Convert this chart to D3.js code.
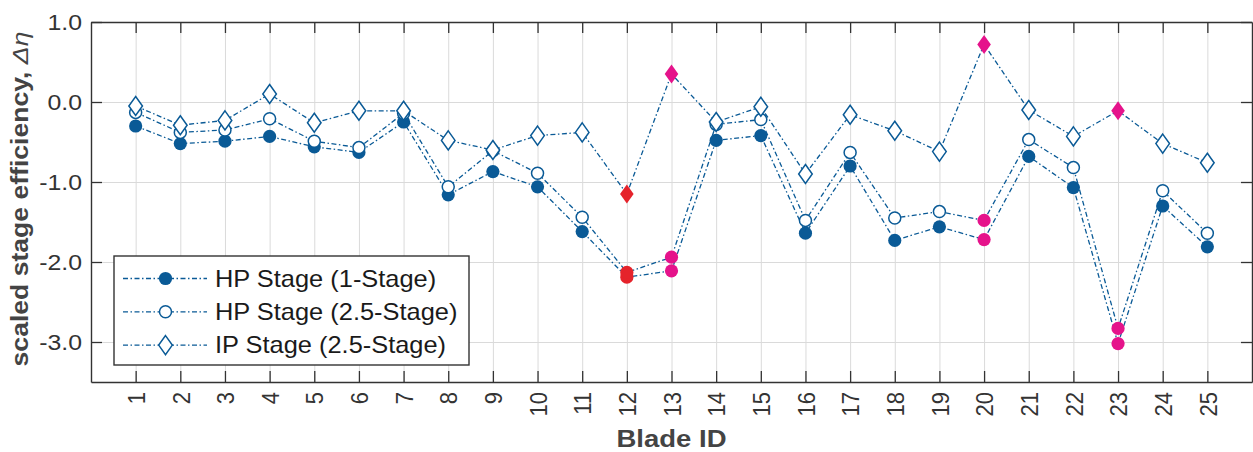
<!DOCTYPE html>
<html>
<head>
<meta charset="utf-8">
<script src="https://cdn.jsdelivr.net/npm/d3@7"></script>
<style>
  html, body { margin: 0; padding: 0; background: #fff; }
  svg { display: block; }
  text { font-family: "Liberation Sans", Arial, Helvetica, sans-serif; }
</style>
</head>
<body>
<svg id="chart" width="1253" height="452"></svg>
<script>
// ---------------- data ----------------
const bladeIds = d3.range(1, 26);
const hp1Stage = [-0.30, -0.52, -0.49, -0.43, -0.56, -0.63, -0.25, -1.16, -0.87, -1.06,
                  -1.62, -2.19, -2.11, -0.48, -0.42, -1.64, -0.80, -1.73, -1.56, -1.72,
                  -0.68, -1.07, -3.02, -1.30, -1.81];
const hp25Stage = [-0.13, -0.38, -0.35, -0.21, -0.49, -0.57, -0.14, -1.06, -0.61, -0.89,
                   -1.44, -2.13, -1.94, -0.28, -0.22, -1.48, -0.63, -1.45, -1.37, -1.48,
                   -0.47, -0.82, -2.83, -1.11, -1.64];
const ip25Stage = [-0.05, -0.29, -0.23, 0.10, -0.26, -0.11, -0.11, -0.48, -0.60, -0.42,
                   -0.38, -1.15, 0.35, -0.25, -0.06, -0.90, -0.16, -0.36, -0.62, 0.72,
                   -0.10, -0.43, -0.11, -0.52, -0.76];
const seriesNames = ["HP Stage (1-Stage)", "HP Stage (2.5-Stage)", "IP Stage (2.5-Stage)"];
const redIds = [12];
const pinkIds = [13, 20, 23];
const xTicks = d3.range(1, 26);
const yTicks = [1, 0, -1, -2, -3];
const yTickLabels = ["1.0", "0.0", "-1.0", "-2.0", "-3.0"];

// ---------------- layout ----------------
const W = 1253, H = 452;
const L = 91, R = 1252, T = 22, B = 382;
const BLUE = "#0a5a96", RED = "#e5232b", PINK = "#e5138b";
const TXT = "#333";
const DASH = "5,2.5,1.5,2.5";

const svg = d3.select("#chart");
const x = d3.scaleLinear().domain([0, 26]).range([L, R]);
const y = d3.scaleLinear().domain([-3.5, 1.0]).range([B, T]);

// gridlines
svg.append("g").attr("transform", `translate(0,${B})`)
  .call(d3.axisBottom(x).tickValues(xTicks).tickSize(-(B - T)).tickFormat(""))
  .call(g => g.select(".domain").remove())
  .call(g => g.selectAll("line").attr("stroke", "#dadada").attr("stroke-width", 1));
svg.append("g").attr("transform", `translate(${L},0)`)
  .call(d3.axisLeft(y).tickValues(yTicks).tickSize(-(R - L)).tickFormat(""))
  .call(g => g.select(".domain").remove())
  .call(g => g.selectAll("line").attr("stroke", "#dadada").attr("stroke-width", 1));

// axes with inward ticks
const TK = 11;
const xb = svg.append("g").attr("transform", `translate(0,${B})`)
  .call(d3.axisBottom(x).tickValues(xTicks).tickSizeInner(-TK).tickSizeOuter(0).tickFormat(d3.format("d")));
xb.selectAll("text")
  .attr("x", -10).attr("y", 0).attr("dy", "0.36em")
  .attr("text-anchor", "end")
  .attr("transform", "rotate(-90) scale(1,1.1)")
  .attr("font-size", 22).attr("fill", TXT);
const xt = svg.append("g").attr("transform", `translate(0,${T})`)
  .call(d3.axisTop(x).tickValues(xTicks).tickSizeInner(-TK).tickSizeOuter(0).tickFormat(""));
const yl = svg.append("g").attr("transform", `translate(${L},0)`)
  .call(d3.axisLeft(y).tickValues(yTicks).tickSizeInner(-TK).tickSizeOuter(0)
    .tickFormat((d, i) => yTickLabels[i]));
const SX = 1.13;
yl.selectAll("text")
  .attr("x", -9 / SX).attr("dy", "0.36em")
  .attr("text-anchor", "end")
  .attr("transform", `scale(${SX},1)`)
  .attr("font-size", 22).attr("fill", TXT);
const yr = svg.append("g").attr("transform", `translate(${R},0)`)
  .call(d3.axisRight(y).tickValues(yTicks).tickSizeInner(-TK).tickSizeOuter(0).tickFormat(""));
[xb, xt, yl, yr].forEach(g => {
  g.select(".domain").attr("stroke", "#333").attr("stroke-width", 1.4);
  g.selectAll(".tick line").attr("stroke", "#333").attr("stroke-width", 1.3);
});

// ---------------- series ----------------
const series = [
  { name: seriesNames[0], values: hp1Stage, marker: "filled" },
  { name: seriesNames[1], values: hp25Stage, marker: "open" },
  { name: seriesNames[2], values: ip25Stage, marker: "diamond" }
];
const diamondPath = (cx, cy) => `M${cx},${cy - 9.5}L${cx + 6.8},${cy}L${cx},${cy + 9.5}L${cx - 6.8},${cy}Z`;
function drawMarker(g, type, cx, cy, color) {
  const hi = color !== null;
  if (type === "diamond") {
    g.append("path").attr("d", diamondPath(cx, cy))
      .attr("fill", hi ? color : "#fff")
      .attr("stroke", hi ? "none" : BLUE).attr("stroke-width", 1.5);
  } else if (type === "open") {
    g.append("circle").attr("cx", cx).attr("cy", cy).attr("r", hi ? 6.6 : 6.0)
      .attr("fill", hi ? color : "#fff")
      .attr("stroke", hi ? "none" : BLUE).attr("stroke-width", 1.5);
  } else {
    g.append("circle").attr("cx", cx).attr("cy", cy).attr("r", 6.6)
      .attr("fill", hi ? color : BLUE).attr("stroke", "none");
  }
}
const line = d3.line().x((d, i) => x(bladeIds[i])).y(d => y(d));
series.forEach(s => {
  const g = svg.append("g");
  g.append("path").attr("d", line(s.values))
    .attr("fill", "none").attr("stroke", BLUE).attr("stroke-width", 1.3)
    .attr("stroke-dasharray", DASH);
  s.values.forEach((v, i) => {
    const id = bladeIds[i];
    const c = redIds.includes(id) ? RED : (pinkIds.includes(id) ? PINK : null);
    drawMarker(g, s.marker, x(id), y(v), c);
  });
});

// ---------------- legend ----------------
const lg = svg.append("g");
lg.append("rect").attr("x", 114).attr("y", 256).attr("width", 355).attr("height", 109)
  .attr("fill", "#fff").attr("stroke", "#333").attr("stroke-width", 1.4);
series.forEach((s, i) => {
  const cy = 278.5 + i * 33.3;
  lg.append("line").attr("x1", 123).attr("x2", 207).attr("y1", cy).attr("y2", cy)
    .attr("stroke", BLUE).attr("stroke-width", 1.3).attr("stroke-dasharray", DASH);
  drawMarker(lg, s.marker, 165.5, cy, null);
  lg.append("text").attr("transform", `translate(215,${cy}) scale(1.105,1)`)
    .attr("dy", "0.36em").attr("font-size", 23).attr("fill", "#1a1a1a").text(s.name);
});

// ---------------- axis labels ----------------
const bl = svg.append("text").attr("font-size", 24).attr("font-weight", "bold")
  .attr("fill", "#444").attr("text-anchor", "middle").text("Blade ID");
const blW = bl.node().getComputedTextLength();
bl.attr("transform", `translate(671.5,447) scale(${110 / blW},1)`);

const ylab = svg.append("text").attr("font-size", 23).attr("font-weight", "bold")
  .attr("fill", "#444").attr("text-anchor", "middle");
ylab.append("tspan").text("scaled stage efficiency, ");
ylab.append("tspan").attr("font-style", "italic").attr("font-weight", "normal").text("Δη");
const ylW = ylab.node().getComputedTextLength();
ylab.attr("transform", `translate(27.5,199) rotate(-90) scale(${335 / ylW},1)`);
</script>
</body>
</html>
